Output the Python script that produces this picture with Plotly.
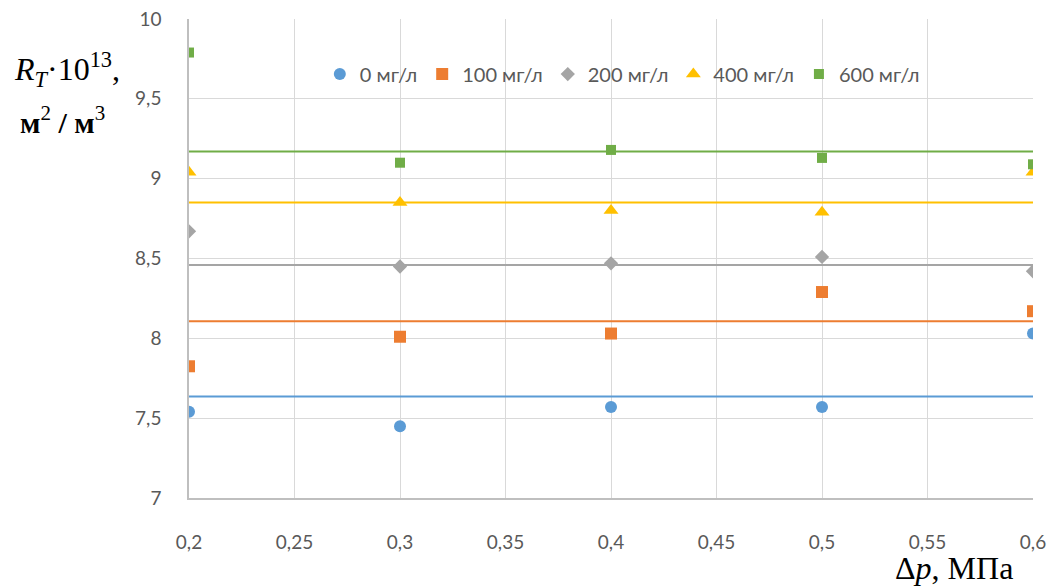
import plotly.graph_objects as go

x_vals = [0.2, 0.3, 0.4, 0.5, 0.6]
names = ["0 мг/л", "100 мг/л", "200 мг/л", "400 мг/л", "600 мг/л"]
s0 = [7.54, 7.45, 7.57, 7.57, 8.03]
s100 = [7.825, 8.01, 8.03, 8.29, 8.17]
s200 = [8.67, 8.45, 8.47, 8.51, 8.42]
s400 = [9.04, 8.85, 8.80, 8.79, 9.04]
s600 = [9.79, 9.10, 9.18, 9.13, 9.09]
levels = [7.635, 8.107, 8.46, 8.85, 9.17]
line_x = [0.2, 0.6]

x_tickvals = [0.2, 0.25, 0.3, 0.35, 0.4, 0.45, 0.5, 0.55, 0.6]
x_ticktext = ["0,2", "0,25", "0,3", "0,35", "0,4", "0,45", "0,5", "0,55", "0,6"]
y_tickvals = [7, 7.5, 8, 8.5, 9, 9.5, 10]
y_ticktext = ["7", "7,5", "8", "8,5", "9", "9,5", "10"]

colors = ["#5B9BD5", "#ED7D31", "#A5A5A5", "#FFC000", "#70AD47"]
symbols = ["circle", "square", "diamond", "triangle-up", "square"]
sizes = [12, 12, 11, 13, 10]
series = [s0, s100, s200, s400, s600]

fig = go.Figure()
for lv, c in zip(levels, colors):
    fig.add_trace(go.Scatter(x=line_x, y=[lv, lv], mode="lines",
                             line=dict(color=c, width=2), showlegend=False,
                             hoverinfo="skip"))
for n, s, c, sym, sz in zip(names, series, colors, symbols, sizes):
    fig.add_trace(go.Scatter(x=x_vals, y=s, mode="markers", name=n,
                             marker=dict(color=c, symbol=sym, size=sz,
                                         line=dict(width=0))))

tick_font = dict(family="Lato, Open Sans, sans-serif", size=19, color="#595959")

# plot area: 844 x 479 px
fig.update_layout(
    width=1050, height=586,
    margin=dict(l=189, r=17, t=19, b=88, autoexpand=False),
    paper_bgcolor="white", plot_bgcolor="white",
    legend=dict(orientation="h", x=0.155, y=0.885, xanchor="left", yanchor="middle",
                bgcolor="rgba(0,0,0,0)",
                font=dict(family="Lato, Open Sans, sans-serif", size=20, color="#595959"),
                itemwidth=30),
    xaxis=dict(range=[0.2, 0.6], tickvals=x_tickvals, ticktext=x_ticktext,
               showgrid=True, gridcolor="#D9D9D9", gridwidth=1.3,
               showline=True, linecolor="#BFBFBF", linewidth=1.5,
               zeroline=False, ticks="", tickfont=tick_font, automargin=False,
               ticklabelstandoff=26, ticklabeloverflow="allow"),
    yaxis=dict(range=[7, 10], tickvals=y_tickvals, ticktext=y_ticktext,
               showgrid=True, gridcolor="#D9D9D9", gridwidth=1.3,
               showline=True, linecolor="#BFBFBF", linewidth=1.5,
               zeroline=False, ticks="", tickfont=tick_font, automargin=False,
               ticklabelstandoff=22, ticklabeloverflow="allow"),
    showlegend=True,
)

fig.add_annotation(text="<i>R</i><sub><i>T</i></sub>·10<sup>13</sup>,",
                   xref="paper", yref="paper", x=-0.210, y=0.895,
                   xanchor="left", yanchor="middle", showarrow=False,
                   font=dict(family="Liberation Serif, serif", size=32, color="#000000"))
fig.add_annotation(text="<b>м</b><sup>2</sup> <b>/ м</b><sup>3</sup>",
                   xref="paper", yref="paper", x=-0.203, y=0.79,
                   xanchor="left", yanchor="middle", showarrow=False,
                   font=dict(family="Liberation Serif, serif", size=30, color="#000000"))
fig.add_annotation(text="Δ<i>p</i>, МПа",
                   xref="paper", yref="paper", x=0.979, y=-0.146,
                   xanchor="right", yanchor="middle", showarrow=False,
                   font=dict(family="Liberation Serif, serif", size=32, color="#000000"))

fig.write_html("out.html", config={"displayModeBar": False},
               post_script="document.body.style.margin='0px';document.body.style.overflow='hidden';")
